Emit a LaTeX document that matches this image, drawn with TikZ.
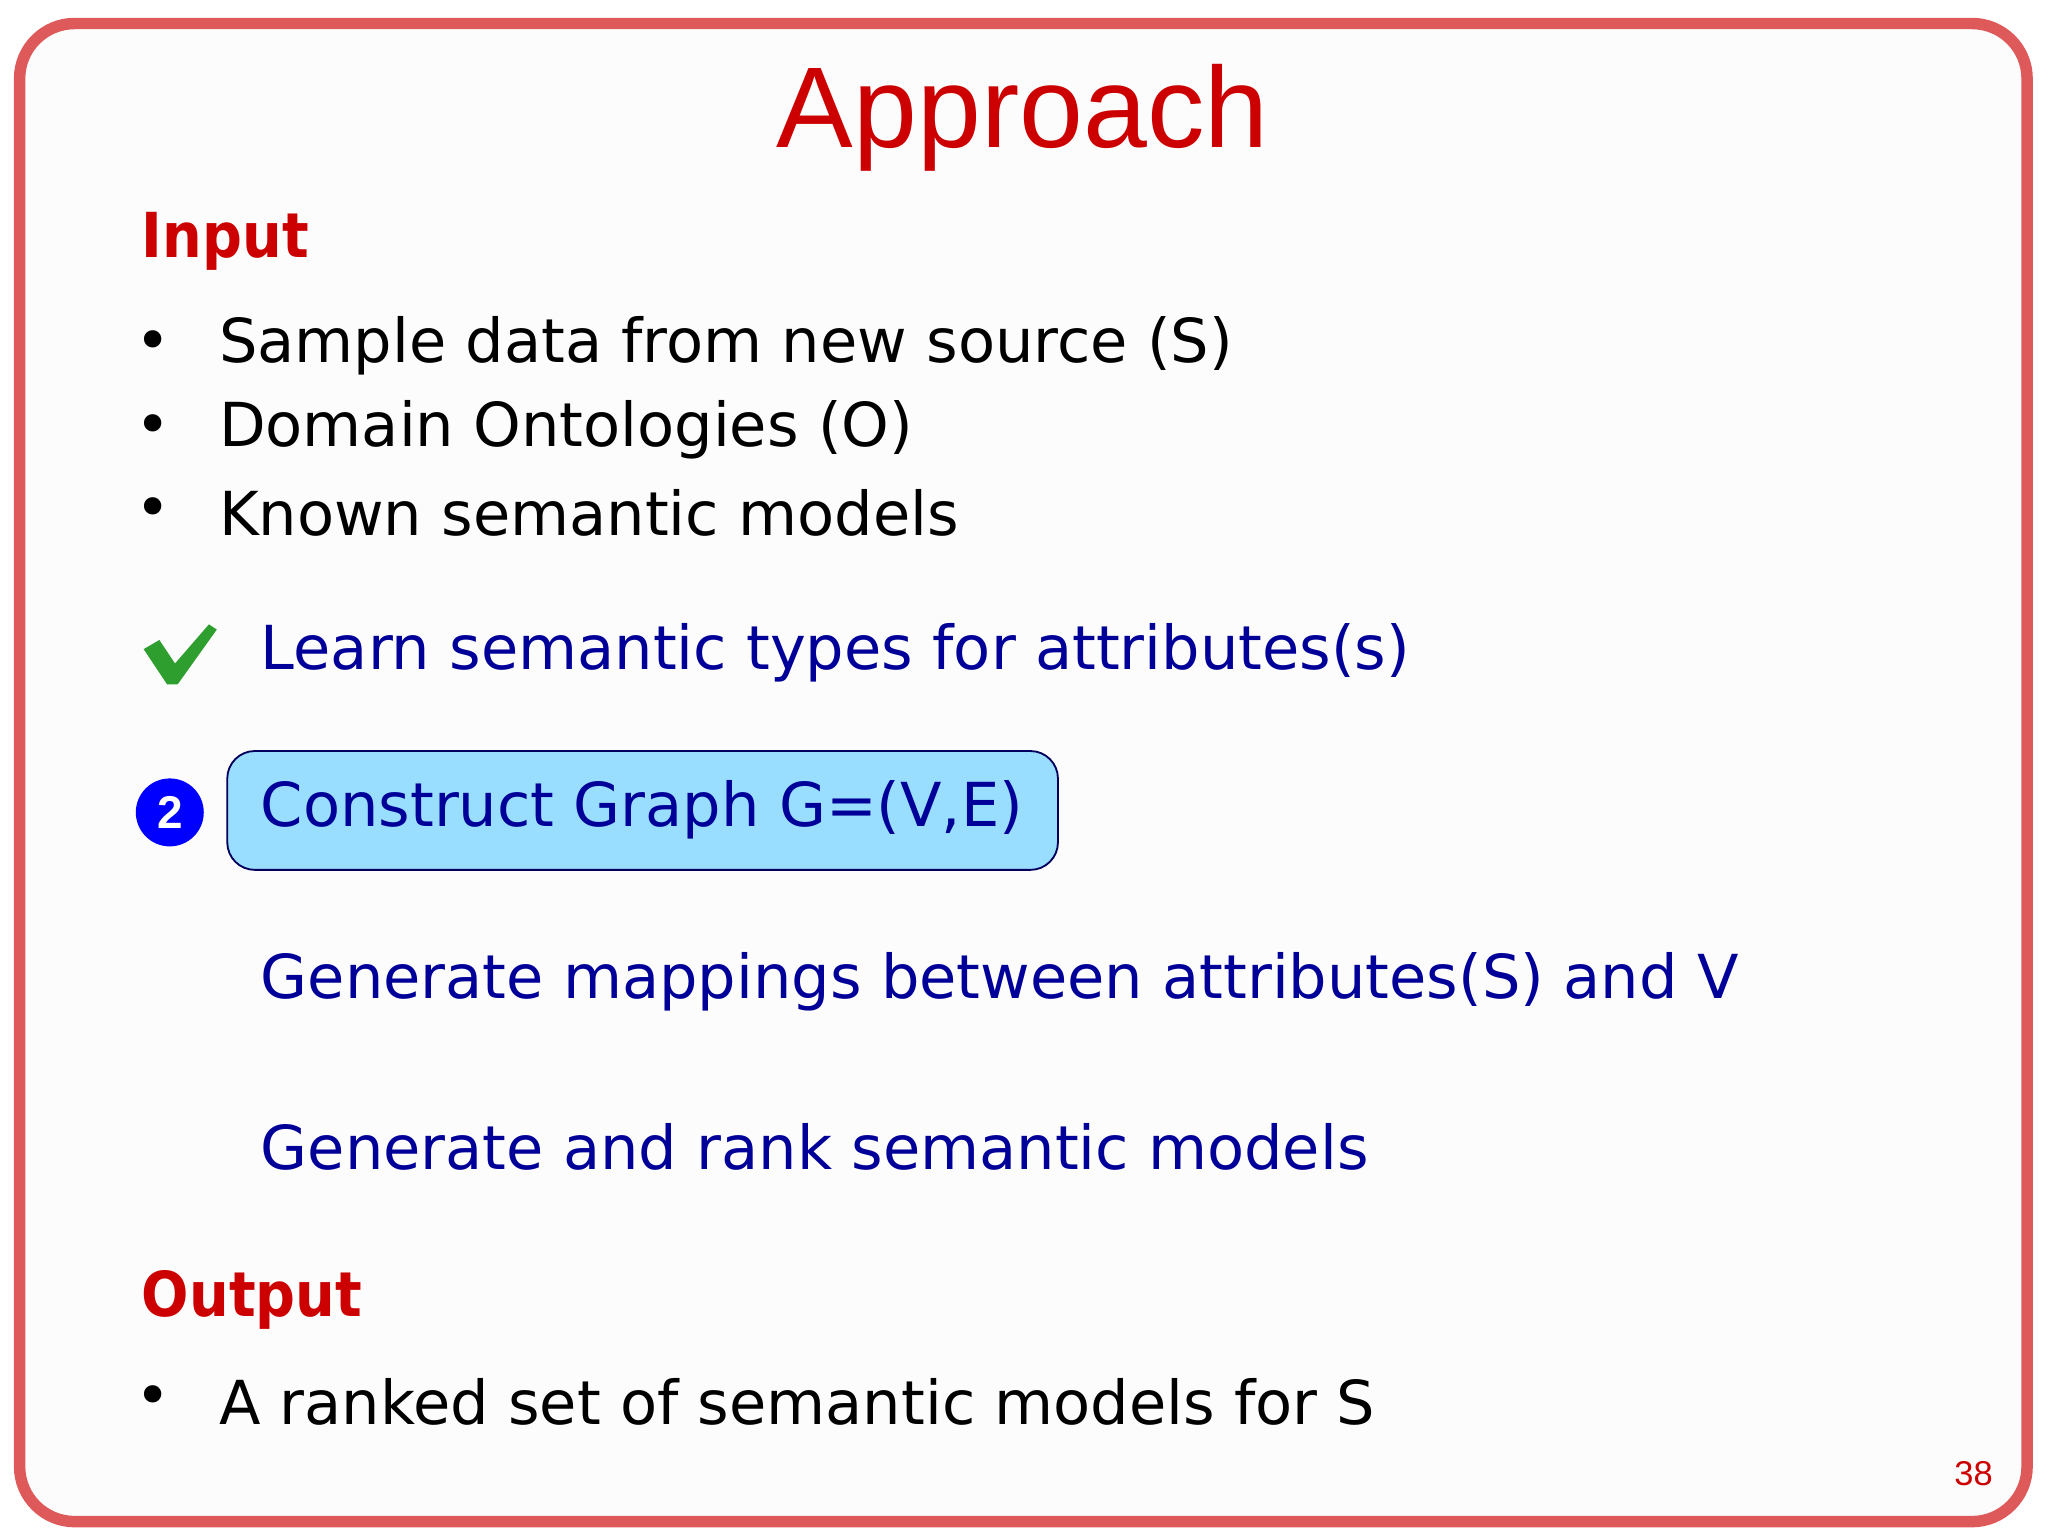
\documentclass[tikz,border=0pt]{standalone}
\usepackage{fontspec}
\setmainfont{DejaVu Sans}
\newfontfamily\titlefont{Liberation Sans}
\newfontfamily\headfont{DejaVu Sans Condensed}
\usetikzlibrary{positioning}
\definecolor{slidered}{HTML}{CC0000}
\definecolor{stepblue}{HTML}{000099}
\definecolor{boxblue}{HTML}{99DDFF}
\definecolor{tickgreen}{HTML}{2E9E2E}
\tikzset{
  heading/.style={anchor=west, text=slidered, font=\headfont\fontsize{13.5}{16}\selectfont\bfseries},
  item/.style={anchor=west, font=\fontsize{13.2}{16}\selectfont},
  stepline/.style={anchor=west, text=stepblue, font=\fontsize{13.2}{16}\selectfont},
  dot/.style={anchor=center, font=\fontsize{13}{16}\selectfont}
}
\begin{document}
\begin{tikzpicture}[x=0.01cm, y=-0.01cm, inner sep=0pt]
\useasboundingbox (0,0) rectangle (1568,1176);

% Slide frame
\draw[slidered!65, line width=2.5pt, fill=black!1, rounded corners=12pt] (15,18) rectangle (1552,1165);

% Title
\node[text=slidered, font=\titlefont\fontsize{25}{30}\selectfont] (title) at (783,90) {Approach};

% Input
\node[heading] (input) at (108,185) {Input};
\node[dot] (b1) at (117,265) {•};
\node[item] (sample) at (167,265) {Sample data from new source (S)};
\node[dot] (b2) at (117,329) {•};
\node[item] (onto) at (167,329) {Domain Ontologies (O)};
\node[dot] (b3) at (117,393) {•};
\node[item] (known) at (167,393) {Known semantic models};

% Steps
\fill[tickgreen] (110,497) -- (122,490) -- (134,508) -- (160,478) -- (166,482) -- (136,524) -- (128,524) -- cycle;
\node[stepline] (learn) at (199,500) {Learn semantic types for attributes(s)};

\node[circle, fill=blue, minimum size=0.52cm, text=white, font=\titlefont\bfseries\fontsize{10}{12}\selectfont] (num) at (130,622) {2};
\draw[fill=boxblue, draw=stepblue!60!black, rounded corners=6pt] (174,575) rectangle (810,666);
\node[stepline] (graph) at (199,620) {Construct Graph G=(V,E)};

\node[stepline] (mapping) at (199,752) {Generate mappings between attributes(S) and V};
\node[stepline] (rank) at (199,878) {Generate and rank semantic models};

% Output
\node[heading] (output) at (108,995) {Output};
\node[dot] (b4) at (117,1073) {•};
\node[item] (ranked) at (167,1073) {A ranked set of semantic models for S};

\node[text=slidered, font=\titlefont\fontsize{7.5}{9}\selectfont] (page) at (1511,1128) {38};
\end{tikzpicture}
\end{document}
